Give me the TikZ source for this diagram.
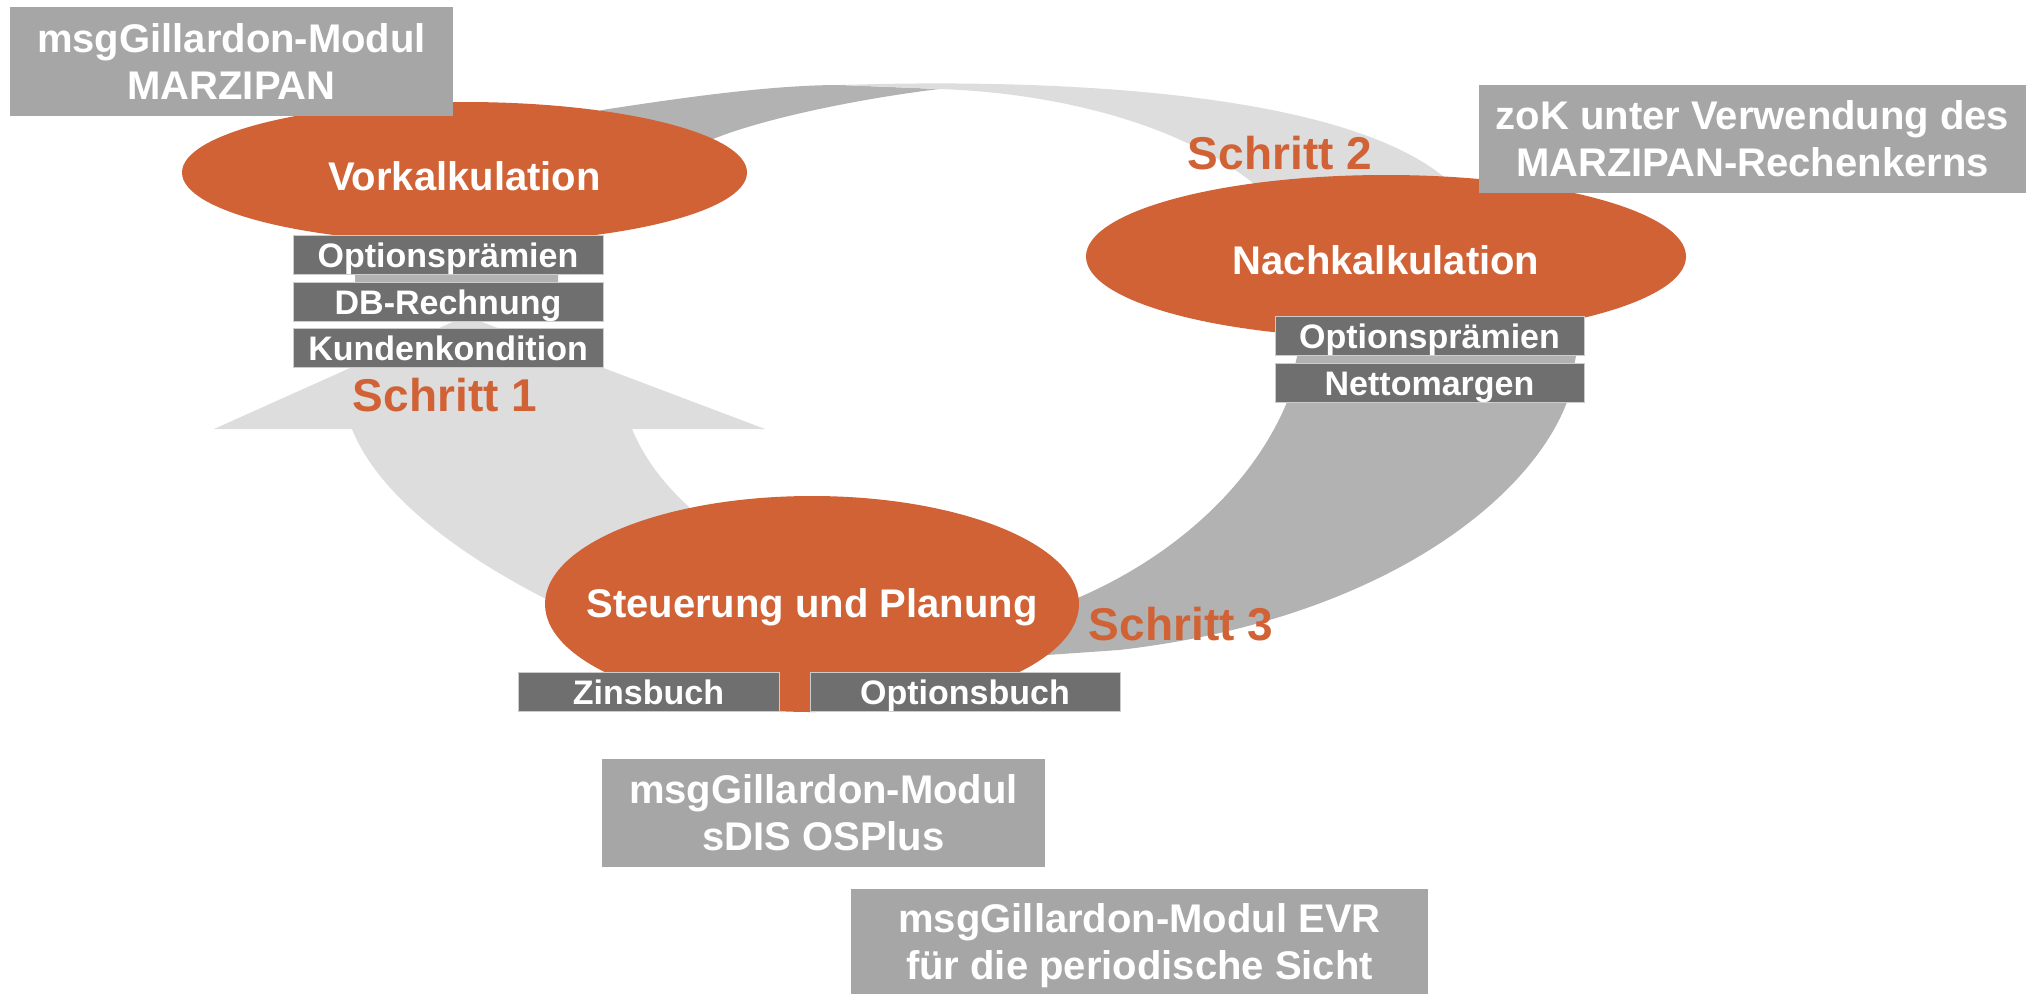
\documentclass[tikz,border=0pt]{standalone}
\usepackage{fontspec}
\setmainfont{Liberation Sans}
\usetikzlibrary{positioning,shapes,fit,arrows}
\definecolor{msgorange}{HTML}{D06236}
\definecolor{boxdark}{HTML}{6F6F6F}
\definecolor{boxlight}{HTML}{A6A6A6}
\definecolor{arcdark}{HTML}{B2B2B2}
\definecolor{arclight}{HTML}{DDDDDD}

\begin{document}
\begin{tikzpicture}
[x=1pt, y=-1pt, node distance=6pt,
 phase/.style={shape=ellipse, fill=msgorange, inner sep=0pt},
 phasetext/.style={text=white, font=\fontsize{40}{47}\selectfont\bfseries, inner sep=0pt},
 item/.style={fill=boxdark, draw=black!20, line width=1pt, text=white, minimum width=310pt,
   minimum height=39pt, inner sep=0pt, text height=25pt, text depth=0pt,
   font=\fontsize{34}{40}\selectfont\bfseries},
 modul/.style={fill=boxlight, text=white, align=center, inner sep=0pt,
   font=\fontsize{40}{47}\selectfont\bfseries},
 schritt/.style={text=msgorange, inner sep=0pt, font=\fontsize{46}{52}\selectfont\bfseries}]
\useasboundingbox (0,0) rectangle (2033,993);

% the cycle behind the phases
\fill[arcdark] (355,282) -- (355,230) -- (602,110) .. controls (680,98) and (770,85) .. (840,85)
  -- (939,89) .. controls (850,100) and (760,120) .. (713,139) -- (558,240) -- (558,282) -- cycle;
\fill[arclight] (840,85) .. controls (1060,78) and (1340,92) .. (1444,177) -- (1420,240)
  -- (1270,240) -- (1253,183) .. controls (1180,125) and (1060,93) .. (939,89) -- cycle;
\fill[arclight] (466,316) -- (765,429) -- (632,429) .. controls (645,460) and (665,485) .. (689,507)
  -- (700,580) -- (600,610) -- (544,598) .. controls (470,560) and (380,500) .. (352,429)
  -- (214,429) -- cycle;
\fill[arcdark] (1305,320) -- (1287,402) .. controls (1255,480) and (1180,555) .. (1073,600)
  -- (1000,600) -- (1000,640) -- (1047,655) -- (1119,650) .. controls (1380,620) and (1530,500) .. (1567,402)
  -- (1583,320) -- cycle;

% phases
\node[phase, minimum width=565pt, minimum height=141pt] (vor) at (464.5,172.5) {};
\node[phasetext, yshift=-4pt] (vortext) at (vor) {Vorkalkulation};
\node[phase, minimum width=600pt, minimum height=163pt] (nach) at (1386,256.5) {};
\node[phasetext, yshift=-4pt] (nachtext) at (nach) {Nachkalkulation};
\node[phase, minimum width=534pt, minimum height=216pt] (steu) at (812,604) {};
\node[phasetext, yshift=-3pt] (steutext) at (steu) {Steuerung und Planung};

% results
\matrix [row sep=6.5pt, inner sep=0pt, anchor=north] (vorlist) at (448,235)
{\node[item] (vora) {Optionsprämien}; \\
\node[item] (vorb) {DB-Rechnung}; \\
\node[item] (vorc) {Kundenkondition}; \\
};
\matrix [row sep=7pt, inner sep=0pt, anchor=north] (nachlist) at (1429.5,316)
{\node[item, minimum width=309pt] (nacha) {Optionsprämien}; \\
\node[item, minimum width=309pt] (nachb) {Nettomargen}; \\
};
\node[item, minimum width=261pt] (zins) at (648.5,691.5) {Zinsbuch};
\node[item, right=30pt of zins] (obuch) {Optionsbuch};

% modules
\node[modul, minimum width=443pt, minimum height=109pt] (marz) at (231.5,61.5) {msgGillardon-Modul\\MARZIPAN};
\node[modul, minimum width=547pt, minimum height=108pt] (zok) at (1752.5,139) {zoK unter Verwendung des\\MARZIPAN-Rechenkerns};
\node[modul, minimum width=443pt, minimum height=108pt] (sdis) at (823.5,813) {msgGillardon-Modul\\sDIS OSPlus};
\node[modul, minimum width=577pt, minimum height=113pt] (evr) at (1139.5,945.5) {msgGillardon-Modul EVR\\für die periodische Sicht};

\node[schritt] (s1) at (445,395) {Schritt 1};
\node[schritt] (s2) at (1280,153) {Schritt 2};
\node[schritt] (s3) at (1181,624) {Schritt 3};
\end{tikzpicture}
\end{document}
